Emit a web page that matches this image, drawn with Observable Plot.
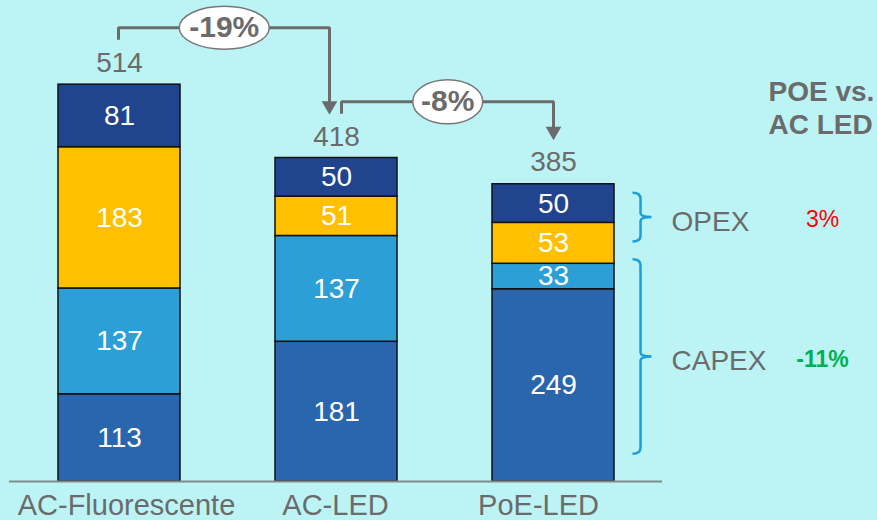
<!DOCTYPE html>
<html><head><meta charset="utf-8">
<script src="https://cdn.jsdelivr.net/npm/d3@7"></script>
<script src="https://cdn.jsdelivr.net/npm/@observablehq/plot@0.6"></script>
<style>
html,body{margin:0;padding:0;background:#bcf4f6;}
#chart{width:877px;height:520px;overflow:hidden;}
</style></head><body><div id="chart"></div>
<script>
// ---- data ----
const categories = ["AC-Fluorescente", "AC-LED", "PoE-LED"];
const seriesNames = ["CAPEX 1", "CAPEX 2", "OPEX 1", "OPEX 2"];
const capexBase = [113, 181, 249];
const capexExtra = [137, 137, 33];
const opexEnergy = [183, 51, 53];
const opexMaint = [81, 50, 50];
const totals = [514, 418, 385];
const changeFrom = [0, 1];
const changeTo = [1, 2];
const changeLabels = ["-19%", "-8%"];
const groupLabels = ["OPEX", "CAPEX"];
const groupTop = [374, 288];
const groupBottom = [311, 36];
const groupChanges = ["3%", "-11%"];
const heading = "POE vs.\nAC LED";

// ---- styles ----
const seriesColors = ["#2966ad", "#2c9fd6", "#ffc000", "#21448f"];
const changeColors = ["#ff0000", "#00b050"];
const changeWeights = ["normal", "bold"];
const grey = "#6b6b6b";
const connectorStartShift = [-1, 5];
const connectorEndShift = [-7, 0];
const ellipseRadii = [[45, 21.5], [35, 22]];
const labelShift = [7, -1, -15];
const fontFamily = "'Liberation Sans', Arial, sans-serif";

// ---- build tables ----
const seriesValues = [capexBase, capexExtra, opexEnergy, opexMaint];
const rows = [];
seriesValues.forEach((vals, s) => vals.forEach((v, i) => rows.push({category: categories[i], series: seriesNames[s], value: v})));
const totalRows = categories.map((c, i) => ({category: c, total: totals[i]}));
const changeRows = changeLabels.map((l, k) => ({
  from: categories[changeFrom[k]], to: categories[changeTo[k]],
  yFrom: totals[changeFrom[k]], yTo: totals[changeTo[k]], label: l
}));
const groupRows = groupLabels.map((g, k) => ({
  category: categories[2], label: g, top: groupTop[k], bottom: groupBottom[k],
  mid: (groupTop[k] + groupBottom[k]) / 2, change: groupChanges[k]
}));

const W = 877, H = 520, mL = 9, mR = 215, mT = 0, mB = 39;
const xOpts = {type: "band", domain: categories, paddingInner: 0.439, paddingOuter: 0.2207, align: 0.5};
const xs = Plot.scale({x: {...xOpts, range: [mL, W - mR]}});
const step = xs.step;

// custom curves
function elbowCurve(sx, ex) {
  return (ctx) => {
    let pts;
    return {
      lineStart() { pts = []; },
      point(x, y) { pts.push([x, y]); },
      lineEnd() {
        const [[x1, y1], [x2, y2]] = pts;
        ctx.moveTo(x1 + sx, y1 - 45);
        ctx.lineTo(x1 + sx, y1 - 57);
        ctx.lineTo(x2 + ex, y1 - 57);
        ctx.lineTo(x2 + ex, y2 - 50);
      },
      areaStart() {}, areaEnd() {}
    };
  };
}
function braceCurve(ctx) {
  let pts;
  return {
    lineStart() { pts = []; },
    point(x, y) { pts.push([x, y]); },
    lineEnd() {
      const [[x, yT], [, yB]] = pts;
      const ym = (yT + yB) / 2;
      ctx.moveTo(x - 8, yT);
      ctx.quadraticCurveTo(x, yT, x, yT + 6);
      ctx.lineTo(x, ym - 4);
      ctx.quadraticCurveTo(x, ym, x + 11, ym);
      ctx.quadraticCurveTo(x, ym, x, ym + 4);
      ctx.lineTo(x, yB - 6);
      ctx.quadraticCurveTo(x, yB, x - 8, yB);
    },
    areaStart() {}, areaEnd() {}
  };
}
const ellipseSymbol = (rx, ry) => ({
  draw(ctx) {
    const k = 0.5523;
    ctx.moveTo(rx, 0);
    ctx.bezierCurveTo(rx, ry * k, rx * k, ry, 0, ry);
    ctx.bezierCurveTo(-rx * k, ry, -rx, ry * k, -rx, 0);
    ctx.bezierCurveTo(-rx, -ry * k, -rx * k, -ry, 0, -ry);
    ctx.bezierCurveTo(rx * k, -ry, rx, -ry * k, rx, 0);
    ctx.closePath();
  }
});

const connectorMarks = changeRows.flatMap((c, k) => {
  const sx = connectorStartShift[k], ex = connectorEndShift[k];
  const [rx, ry] = ellipseRadii[k];
  const mid = (sx + step + ex) / 2;
  return [
    Plot.link([c], {x1: "from", y1: "yFrom", x2: "to", y2: "yTo", curve: elbowCurve(sx, ex), stroke: grey, strokeWidth: 3, fill: "none"}),
    Plot.dot([c], {x: "to", y: "yTo", symbol: "triangle", rotate: 180, r: 5.8, fill: grey, stroke: "none", dx: ex, dy: -53}),
    Plot.dot([c], {x: "from", y: "yFrom", symbol: ellipseSymbol(rx, ry), fill: "white", stroke: "#777", strokeWidth: 1.5, dx: mid, dy: -57}),
    Plot.text([c], {x: "from", y: "yFrom", text: "label", dx: mid, dy: -57, fontSize: 30, fontWeight: "bold", fill: grey})
  ];
});

const axisMarks = categories.map((c, i) =>
  Plot.axisX([c], {tickSize: 0, tickPadding: 13, fontSize: 29, color: grey, dx: labelShift[i], label: null})
);

const chart = Plot.plot({
  width: W, height: H,
  marginLeft: mL, marginRight: mR, marginTop: mT, marginBottom: mB,
  x: {...xOpts, axis: null},
  y: {domain: [0, 623], axis: null},
  color: {domain: seriesNames, range: seriesColors},
  style: {background: "transparent", fontFamily, fontSize: "28px", overflow: "visible"},
  marks: [
    Plot.barY(rows, {x: "category", y: "value", fill: "series", stroke: "#111", strokeWidth: 1.5}),
    Plot.text(rows, Plot.stackY({x: "category", y: "value", z: "series", text: (d) => String(d.value), fill: "white", fontSize: 28})),
    Plot.ruleY([0], {stroke: "#7f8a8a", strokeWidth: 2}),
    Plot.text(totalRows, {x: "category", y: "total", text: (d) => String(d.total), dy: -22, fill: grey, fontSize: 28}),
    ...connectorMarks,
    Plot.link(groupRows, {x1: "category", x2: "category", y1: "top", y2: "bottom", curve: braceCurve, dx: 87, stroke: "#1a9fde", strokeWidth: 2.5, fill: "none"}),
    Plot.text(groupRows, {x: "category", y: "mid", text: "label", dx: 118, dy: 5, textAnchor: "start", fill: grey, fontSize: 28}),
    ...groupRows.map((g, k) => Plot.text([g], {x: "category", y: "mid", text: "change", dx: 269, dy: 3, fill: changeColors[k], fontWeight: changeWeights[k], fontSize: 23})),
    Plot.text([heading], {frameAnchor: "top-right", text: (d) => d, textAnchor: "start", lineAnchor: "top", dx: 106, dy: 76, lineHeight: 1.21, fontWeight: "bold", fill: grey, fontSize: 28}),
    ...axisMarks
  ]
});
document.getElementById("chart").appendChild(chart);
</script>
</body></html>
